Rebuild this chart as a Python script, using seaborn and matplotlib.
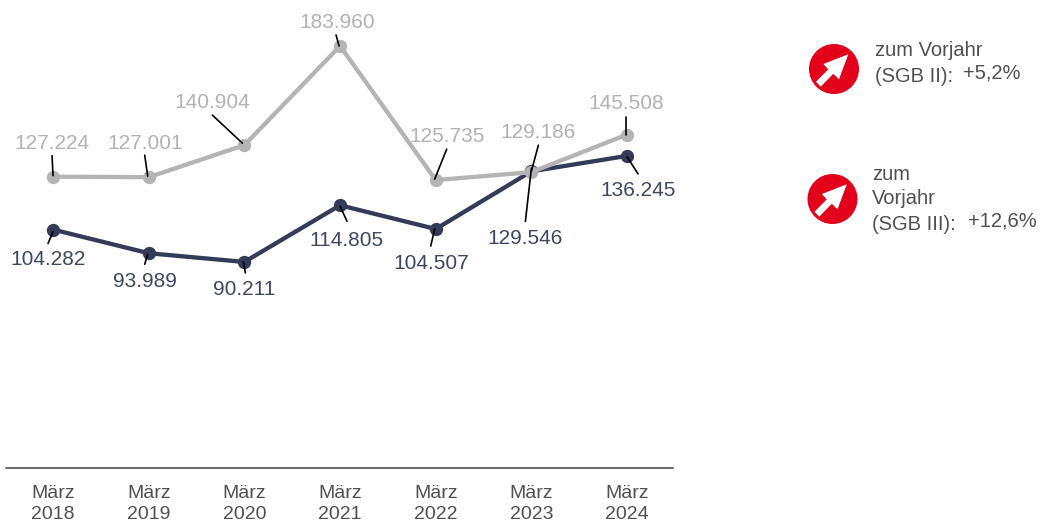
import matplotlib
matplotlib.use('Agg')
import matplotlib.pyplot as plt
from matplotlib.patches import Circle, Polygon
import seaborn as sns
import pandas as pd

# data
monate = ['März\n2018', 'März\n2019', 'März\n2020', 'März\n2021', 'März\n2022', 'März\n2023', 'März\n2024']
sgb2 = [127224, 127001, 140904, 183960, 125735, 129186, 145508]
sgb3 = [104282, 93989, 90211, 114805, 104507, 129546, 136245]

GREY = '#b4b4b4'
DARK = '#333b58'
TEXT = '#505050'

# label offset from the point in pixels (x right, y down), leader start and leader end
sgb2_label = [(-1, -33), (-4, -34), (-32, -43), (-3, -23), (11, -44), (7, -40), (-1, -31)]
sgb2_from = [(-1, -21), (-4, -22), (-32, -30), (-4, -11), (11, -31), (7, -27), (-1, -18)]
sgb2_to = [(0, -1), (-1, -1), (-2, -2), (-1, 0), (-1, -1), (0, -1), (-1, 0)]
sgb3_label = [(-5, 30), (-4, 28), (0, 28), (6, 35), (-4, 34), (-6, 67), (11, 35)]
sgb3_from = [(-5, 14), (-4, 11), (1, 11), (7, 16), (-5, 17), (-6, 50), (11, 18)]
sgb3_to = [(0, 2), (-1, 1), (-1, 0), (0, 1), (-1, 0), (0, -3), (0, 1)]

df = pd.DataFrame({'monat': monate * 2,
                   'wert': sgb3 + sgb2,
                   'reihe': ['SGB III'] * 7 + ['SGB II'] * 7})

sns.set_theme(style='white')
plt.rcParams['font.family'] = ['Liberation Sans', 'DejaVu Sans']

fig = plt.figure(figsize=(10.42, 5.22), dpi=100)
ax = fig.add_axes([5.2 / 1042, 54 / 522, 669.7 / 1042, 468 / 522])

sns.lineplot(data=df, x='monat', y='wert', hue='reihe', hue_order=['SGB III', 'SGB II'],
             palette={'SGB III': DARK, 'SGB II': GREY}, marker='o', markersize=9.6,
             markeredgewidth=0, linewidth=3.1, sort=False, legend=False, ax=ax)

ax.set_xlim(-0.5, 6.5)
ax.set_ylim(780, 203900)
ax.set_xlabel('')
ax.set_ylabel('')
ax.set_yticks([])
sns.despine(ax=ax, left=True)
ax.spines['bottom'].set_color('#404040')
ax.spines['bottom'].set_linewidth(1.1)
ax.spines['bottom'].set_bounds(-0.49, 6.48)
ax.tick_params(axis='x', length=0, pad=12.5, labelsize=14, labelcolor=TEXT)
for t in ax.get_xticklabels():
    t.set_linespacing(1.28)


def beschriften(werte, farbe, label_pos, von, bis):
    for i, w in enumerate(werte):
        text = f'{w:,}'.replace(',', '.')
        ax.annotate(text, xy=(i, w), xytext=(label_pos[i][0], -label_pos[i][1]),
                    textcoords='offset pixels', ha='center', va='center',
                    fontsize=15, color=farbe, annotation_clip=False)
        a = ax.transData.transform((i, w))
        inv = fig.transFigure.inverted()
        p0 = inv.transform((a[0] + von[i][0], a[1] - von[i][1]))
        p1 = inv.transform((a[0] + bis[i][0], a[1] - bis[i][1]))
        fig.add_artist(plt.Line2D([p0[0], p1[0]], [p0[1], p1[1]], color='black', lw=1.2))


beschriften(sgb2, '#b2b2b2', sgb2_label, sgb2_from, sgb2_to)
beschriften(sgb3, '#404760', sgb3_label, sgb3_from, sgb3_to)

# right side, pixel coordinates
ov = fig.add_axes([0, 0, 1, 1], facecolor='none')
ov.set_xlim(0, 1042)
ov.set_ylim(522, 0)
ov.axis('off')

pfeil = [(14.3, -14.7), (5, 10.3), (-0.7, 4.8), (-13.3, 17.7), (-18, 12.7), (-5.7, 0.3), (-10.7, -5)]
for cx, cy in [(834, 69), (832.5, 199)]:
    ov.add_patch(Circle((cx, cy), 25, color='#e2001a', lw=0))
    ov.add_patch(Polygon([(cx + px, cy + py) for px, py in pfeil], color='white', lw=0))

for x, y, s in [(875, 51, 'zum Vorjahr'), (875, 76, '(SGB II):'), (963, 73, '+5,2%'),
                (872, 174, 'zum'), (872, 199, 'Vorjahr'), (872, 224, '(SGB III):'),
                (968, 221, '+12,6%')]:
    ov.text(x, y, s, fontsize=14.5, color=TEXT, ha='left', va='center')

fig.savefig('out.png', dpi=100)
